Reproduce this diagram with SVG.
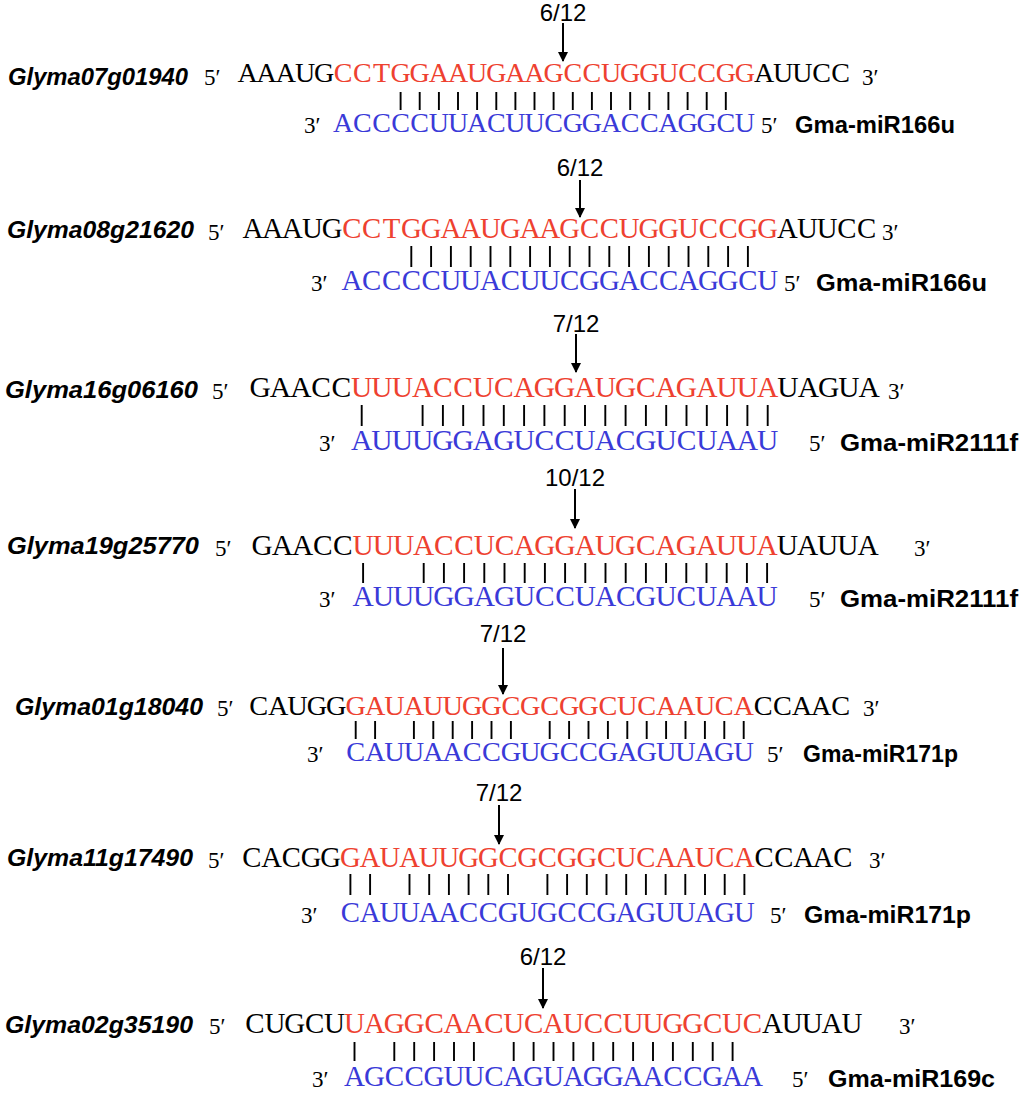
<svg xmlns="http://www.w3.org/2000/svg" width="1024" height="1093" viewBox="0 0 1024 1093">
<style>
.lab{font-family:"Liberation Sans",Arial,sans-serif;font-style:italic;font-weight:bold;font-size:24px;fill:#000}
.mir{font-family:"Liberation Sans",Arial,sans-serif;font-weight:bold;font-size:24px;fill:#000}
.ratio{font-family:"Liberation Sans",Arial,sans-serif;font-size:24px;fill:#000;text-anchor:middle}
.seq{font-family:"Liberation Serif","DejaVu Serif",serif;fill:#000;text-anchor:middle}
.pr{font-family:"Liberation Serif","DejaVu Serif",serif;font-size:23px;fill:#000}
.r{fill:#EE4130}
.b{fill:#3A3AD8}
.bar{stroke:#000;stroke-width:1.9;fill:none}
.arr{stroke:#000;stroke-width:2;fill:none;marker-end:url(#ah)}
</style>
<defs>
<marker id="ah" viewBox="0 0 10 10" refX="9" refY="5" markerUnits="userSpaceOnUse" markerWidth="10" markerHeight="12" orient="auto">
<path d="M0,0 L10,5 L0,10 z" fill="#000"/>
</marker>
</defs>
<rect width="1024" height="1093" fill="#fff"/>

<g id="block1">
<text class="lab" x="8" y="85" textLength="180" lengthAdjust="spacingAndGlyphs">Glyma07g01940</text>
<text class="pr" x="204" y="85">5′</text>
<text class="seq" y="82" font-size="28"><tspan x="247.6 266.7 285.8 305.0 324.1">AAAUG</tspan><tspan class="r" x="343.2 362.3 381.5 400.6 419.7 438.9 458.0 477.1 496.3 515.4 534.5 553.6 572.8 591.9 611.0 630.2 649.3 668.4 687.6 706.7 725.8 744.9">CCTGGAAUGAAGCCUGGUCCGG</tspan><tspan x="764.1 783.2 802.3 821.5 840.6">AUUCC</tspan></text>
<text class="pr" x="862" y="85">3′</text>
<path class="bar" d="M400.6 92v18M419.7 92v18M438.9 92v18M458 92v18M477.1 92v18M496.3 92v18M515.4 92v18M534.5 92v18M553.6 92v18M572.8 92v18M591.9 92v18M611 92v18M630.2 92v18M649.3 92v18M668.4 92v18M687.6 92v18M706.7 92v18M725.8 92v18"/>
<text class="pr" x="304" y="133">3′</text>
<text class="seq b" y="132" font-size="28" x="343.2 362.3 381.5 400.6 419.7 438.9 458.0 477.1 496.3 515.4 534.5 553.6 572.8 591.9 611.0 630.2 649.3 668.4 687.6 706.7 725.8 744.9">ACCCCUUACUUCGGACCAGGCU</text>
<text class="pr" x="761" y="133">5′</text>
<text class="mir" x="795" y="133" textLength="160" lengthAdjust="spacingAndGlyphs">Gma-miR166u</text>
<text class="ratio" x="563" y="21">6/12</text>
</g>

<g id="block2">
<text class="lab" x="7" y="238" textLength="187" lengthAdjust="spacingAndGlyphs">Glyma08g21620</text>
<text class="pr" x="208" y="240">5′</text>
<text class="seq" y="238" font-size="28.8"><tspan x="252.9 272.7 292.5 312.3 332.1">AAAUG</tspan><tspan class="r" x="351.9 371.7 391.5 411.3 431.1 450.9 470.7 490.5 510.3 530.1 549.9 569.7 589.5 609.3 629.1 648.9 668.7 688.5 708.3 728.1 747.9 767.7">CCTGGAAUGAAGCCUGGUCCGG</tspan><tspan x="787.5 807.3 827.1 846.9 866.7">AUUCC</tspan></text>
<text class="pr" x="882" y="240">3′</text>
<path class="bar" d="M411.3 246v21M431.1 246v21M450.9 246v21M470.7 246v21M490.5 246v21M510.3 246v21M530.1 246v21M549.9 246v21M569.7 246v21M589.5 246v21M609.3 246v21M629.1 246v21M648.9 246v21M668.7 246v21M688.5 246v21M708.3 246v21M728.1 246v21M747.9 246v21"/>
<text class="pr" x="311" y="291">3′</text>
<text class="seq b" y="290" font-size="28.8" x="351.9 371.7 391.5 411.3 431.1 450.9 470.7 490.5 510.3 530.1 549.9 569.7 589.5 609.3 629.1 648.9 668.7 688.5 708.3 728.1 747.9 767.7">ACCCCUUACUUCGGACCAGGCU</text>
<text class="pr" x="784" y="291">5′</text>
<text class="mir" x="816" y="291" textLength="171" lengthAdjust="spacingAndGlyphs">Gma-miR166u</text>
<text class="ratio" x="580" y="176">6/12</text>
</g>

<g id="block3">
<text class="lab" x="5" y="398" textLength="193" lengthAdjust="spacingAndGlyphs">Glyma16g06160</text>
<text class="pr" x="212" y="399">5′</text>
<text class="seq" y="397" font-size="29.5"><tspan x="260.2 280.5 300.8 321.1 341.4">GAACC</tspan><tspan class="r" x="361.7 382.0 402.3 422.6 442.9 463.2 483.5 503.8 524.1 544.4 564.7 585.0 605.3 625.6 645.9 666.2 686.5 706.8 727.1 747.4 767.7">UUUACCUCAGGAUGCAGAUUA</tspan><tspan x="788.0 808.3 828.6 848.9 869.2">UAGUA</tspan></text>
<text class="pr" x="888" y="399">3′</text>
<path class="bar" d="M361.7 405v21M422.6 405v21M442.9 405v21M463.2 405v21M483.5 405v21M503.8 405v21M524.1 405v21M544.4 405v21M564.7 405v21M585 405v21M605.3 405v21M625.6 405v21M645.9 405v21M666.2 405v21M686.5 405v21M706.8 405v21M727.1 405v21M747.4 405v21M767.7 405v21"/>
<text class="pr" x="319" y="451">3′</text>
<text class="seq b" y="450" font-size="29.5" x="361.7 382.0 402.3 422.6 442.9 463.2 483.5 503.8 524.1 544.4 564.7 585.0 605.3 625.6 645.9 666.2 686.5 706.8 727.1 747.4 767.7">AUUUGGAGUCCUACGUCUAAU</text>
<text class="pr" x="809" y="451">5′</text>
<text class="mir" x="840" y="451" textLength="178" lengthAdjust="spacingAndGlyphs">Gma-miR2111f</text>
<text class="ratio" x="576" y="332">7/12</text>
</g>

<g id="block4">
<text class="lab" x="7" y="554" textLength="192" lengthAdjust="spacingAndGlyphs">Glyma19g25770</text>
<text class="pr" x="215" y="556">5′</text>
<text class="seq" y="555" font-size="29.4"><tspan x="262.1 282.3 302.5 322.7 342.9">GAACC</tspan><tspan class="r" x="363.1 383.3 403.5 423.7 443.9 464.1 484.3 504.5 524.7 544.9 565.1 585.3 605.5 625.7 645.9 666.1 686.3 706.5 726.7 746.9 767.1">UUUACCUCAGGAUGCAGAUUA</tspan><tspan x="787.3 807.5 827.7 847.9 868.1">UAUUA</tspan></text>
<text class="pr" x="914" y="556">3′</text>
<path class="bar" d="M363.1 563v20M423.7 563v20M443.9 563v20M464.1 563v20M484.3 563v20M504.5 563v20M524.7 563v20M544.9 563v20M565.1 563v20M585.3 563v20M605.5 563v20M625.7 563v20M645.9 563v20M666.1 563v20M686.3 563v20M706.5 563v20M726.7 563v20M746.9 563v20M767.1 563v20"/>
<text class="pr" x="319" y="607">3′</text>
<text class="seq b" y="606" font-size="29.4" x="363.1 383.3 403.5 423.7 443.9 464.1 484.3 504.5 524.7 544.9 565.1 585.3 605.5 625.7 645.9 666.1 686.3 706.5 726.7 746.9 767.1">AUUUGGAGUCCUACGUCUAAU</text>
<text class="pr" x="809" y="607">5′</text>
<text class="mir" x="840" y="607" textLength="178" lengthAdjust="spacingAndGlyphs">Gma-miR2111f</text>
<text class="ratio" x="575" y="486">10/12</text>
</g>

<g id="block5">
<text class="lab" x="15" y="715" textLength="188" lengthAdjust="spacingAndGlyphs">Glyma01g18040</text>
<text class="pr" x="217" y="716">5′</text>
<text class="seq" y="715" font-size="28.3"><tspan x="258.7 278.1 297.5 316.9 336.3">CAUGG</tspan><tspan class="r" x="355.7 375.1 394.5 413.9 433.3 452.7 472.1 491.5 510.9 530.3 549.7 569.1 588.5 607.9 627.3 646.7 666.1 685.5 704.9 724.3 743.7">GAUAUUGGCGCGGCUCAAUCA</tspan><tspan x="763.1 782.5 801.9 821.3 840.7">CCAAC</tspan></text>
<text class="pr" x="863" y="716">3′</text>
<path class="bar" d="M355.7 721v18M375.1 721v18M413.9 721v18M433.3 721v18M452.7 721v18M472.1 721v18M491.5 721v18M510.9 721v18M549.7 721v18M569.1 721v18M588.5 721v18M607.9 721v18M627.3 721v18M646.7 721v18M666.1 721v18M685.5 721v18M704.9 721v18M724.3 721v18M743.7 721v18"/>
<text class="pr" x="307" y="762">3′</text>
<text class="seq b" y="761" font-size="28.3" x="355.7 375.1 394.5 413.9 433.3 452.7 472.1 491.5 510.9 530.3 549.7 569.1 588.5 607.9 627.3 646.7 666.1 685.5 704.9 724.3 743.7">CAUUAACCGUGCCGAGUUAGU</text>
<text class="pr" x="767" y="762">5′</text>
<text class="mir" x="803" y="762" textLength="155" lengthAdjust="spacingAndGlyphs">Gma-miR171p</text>
<text class="ratio" x="503" y="642">7/12</text>
</g>

<g id="block6">
<text class="lab" x="7" y="866" textLength="186" lengthAdjust="spacingAndGlyphs">Glyma11g17490</text>
<text class="pr" x="208" y="868">5′</text>
<text class="seq" y="867" font-size="28.7"><tspan x="251.9 271.6 291.3 311.0 330.7">CACGG</tspan><tspan class="r" x="350.4 370.1 389.8 409.5 429.2 448.9 468.6 488.3 508.0 527.7 547.4 567.1 586.8 606.5 626.2 645.9 665.6 685.3 705.0 724.7 744.4">GAUAUUGGCGCGGCUCAAUCA</tspan><tspan x="764.1 783.8 803.5 823.2 842.9">CCAAC</tspan></text>
<text class="pr" x="869" y="868">3′</text>
<path class="bar" d="M350.4 874v21M370.1 874v21M409.5 874v21M429.2 874v21M448.9 874v21M468.6 874v21M488.3 874v21M508 874v21M547.4 874v21M567.1 874v21M586.8 874v21M606.5 874v21M626.2 874v21M645.9 874v21M665.6 874v21M685.3 874v21M705 874v21M724.7 874v21M744.4 874v21"/>
<text class="pr" x="301" y="923">3′</text>
<text class="seq b" y="922" font-size="28.7" x="350.4 370.1 389.8 409.5 429.2 448.9 468.6 488.3 508.0 527.7 547.4 567.1 586.8 606.5 626.2 645.9 665.6 685.3 705.0 724.7 744.4">CAUUAACCGUGCCGAGUUAGU</text>
<text class="pr" x="770" y="923">5′</text>
<text class="mir" x="804" y="923" textLength="167" lengthAdjust="spacingAndGlyphs">Gma-miR171p</text>
<text class="ratio" x="499" y="801">7/12</text>
</g>

<g id="block7">
<text class="lab" x="5" y="1033" textLength="188" lengthAdjust="spacingAndGlyphs">Glyma02g35190</text>
<text class="pr" x="209" y="1034">5′</text>
<text class="seq" y="1033" font-size="29"><tspan x="255.0 274.9 294.8 314.7 334.6">CUGCU</tspan><tspan class="r" x="354.5 374.4 394.3 414.2 434.1 454.0 473.9 493.8 513.7 533.6 553.5 573.4 593.3 613.2 633.1 653.0 672.9 692.8 712.7 732.6 752.5">UAGGCAACUCAUCCUUGGCUC</tspan><tspan x="772.4 792.3 812.2 832.1 852.0">AUUAU</tspan></text>
<text class="pr" x="899" y="1034">3′</text>
<path class="bar" d="M354.5 1042v19M394.3 1042v19M414.2 1042v19M434.1 1042v19M454 1042v19M473.9 1042v19M513.7 1042v19M533.6 1042v19M553.5 1042v19M573.4 1042v19M593.3 1042v19M613.2 1042v19M633.1 1042v19M653 1042v19M672.9 1042v19M692.8 1042v19M712.7 1042v19M732.6 1042v19"/>
<text class="pr" x="312" y="1087">3′</text>
<text class="seq b" y="1086" font-size="29" x="354.5 374.4 394.3 414.2 434.1 454.0 473.9 493.8 513.7 533.6 553.5 573.4 593.3 613.2 633.1 653.0 672.9 692.8 712.7 732.6 752.5">AGCCGUUCAGUAGGAACCGAA</text>
<text class="pr" x="792" y="1087">5′</text>
<text class="mir" x="828" y="1087" textLength="167" lengthAdjust="spacingAndGlyphs">Gma-miR169c</text>
<text class="ratio" x="543" y="965">6/12</text>
</g>

<g id="connectors">
<line class="arr" x1="563" y1="23" x2="563" y2="61"/>
<line class="arr" x1="580" y1="180" x2="580" y2="217"/>
<line class="arr" x1="576" y1="334" x2="576" y2="372"/>
<line class="arr" x1="575" y1="489" x2="575" y2="528"/>
<line class="arr" x1="503" y1="648" x2="503" y2="694"/>
<line class="arr" x1="499" y1="805" x2="499" y2="844"/>
<line class="arr" x1="543" y1="968" x2="543" y2="1008"/>
</g>
</svg>
